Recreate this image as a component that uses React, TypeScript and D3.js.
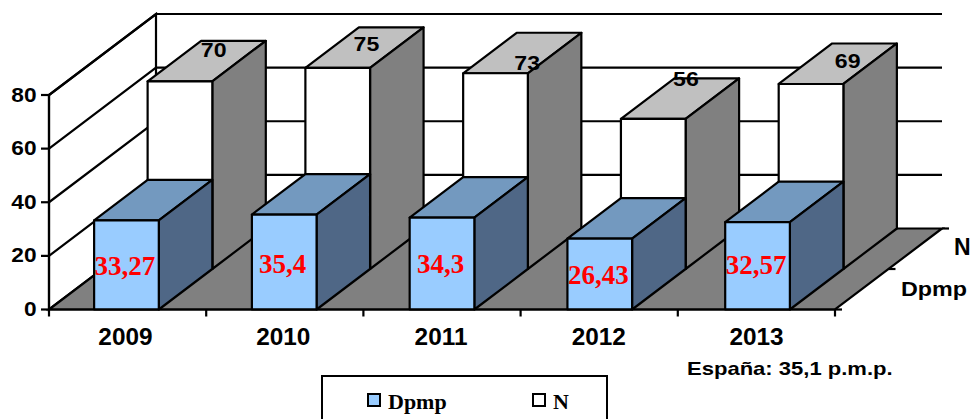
import React from "react";
import * as d3 from "d3";

const years = ["2009", "2010", "2011", "2012", "2013"];
const dpmp = [33.27, 35.4, 34.3, 26.43, 32.57];
const dpmpLabels = ["33,27", "35,4", "34,3", "26,43", "32,57"];
const nValues = [70, 75, 73, 56, 69];
const yTicks = [0, 20, 40, 60, 80];
const seriesNames = ["Dpmp", "N"];

// hand-placed label offsets
const nLabelDx = [66, 61, 64, 65, 69];
const nLabelDy = [-64.5, -57, -44, -73, -56];
const dpmpLabelDy = [10, 11, 9, 10, 8];

const x0 = 49, x1 = 835, y0 = 309.5, y80 = 95;
const depthX = 107, depthY = -81;

const x = d3.scaleBand<string>().domain(years).range([x0, x1]).paddingInner(0.59).paddingOuter(0.286);
const y = d3.scaleLinear().domain([0, 80]).range([y0, y80]);
const z = d3.scaleBand<string>().domain(seriesNames).range([0, 1]);

const pt = (px: number, py: number, d: number) => [px + d * depthX, py + d * depthY] as [number, number];
const poly = (pts: [number, number][]) => d3.line()(pts)! + "Z";

const stroke = "#000";
const sw = 2.2;

function Box({ cat, series, value, front, top, side }: { cat: string; series: string; value: number; front: string; top: string; side: string }) {
  const l = x(cat)!;
  const r = l + x.bandwidth();
  const d0 = z(series)!;
  const d1 = d0 + z.bandwidth();
  const yb = y(0), yt = y(value);
  return (
    <g stroke={stroke} strokeWidth={sw} strokeLinejoin="round">
      <path d={poly([pt(l, yt, d0), pt(r, yt, d0), pt(r, yt, d1), pt(l, yt, d1)])} fill={top} />
      <path d={poly([pt(r, yb, d0), pt(r, yb, d1), pt(r, yt, d1), pt(r, yt, d0)])} fill={side} />
      <path d={poly([pt(l, yb, d0), pt(r, yb, d0), pt(r, yt, d0), pt(l, yt, d0)])} fill={front} />
    </g>
  );
}

// Reference text is horizontally stretched: draw with a horizontal scale.
function T({ x: tx, y: ty, sx = 1, anchor = "start", children }: { x: number; y: number; sx?: number; anchor?: string; children: React.ReactNode }) {
  return (
    <text transform={`translate(${tx},${ty}) scale(${sx},1)`} textAnchor={anchor}>{children}</text>
  );
}

export default function App() {
  const sans = "'Liberation Sans', Arial, sans-serif";
  const serif = "'Liberation Serif', 'Times New Roman', serif";
  return (
    <svg width={970} height={419} style={{ position: "absolute", left: 0, top: 0, background: "#fff" }}>
      {/* walls */}
      <g stroke={stroke} strokeWidth={sw} fill="#fff">
        <path d={d3.line()([pt(x0, y(80), 1), pt(x1, y(80), 1)])!} fill="none" />
        <path d={poly([pt(x0, y(0), 0), pt(x0, y(0), 1), pt(x0, y(80), 1), pt(x0, y(80), 0)])} />
      </g>
      {/* grid */}
      <g stroke={stroke} strokeWidth={sw} fill="none">
        {yTicks.slice(1).map((t) => (
          <path key={t} d={d3.line()([pt(x0, y(t), 0), pt(x0, y(t), 1), pt(x1, y(t), 1)])!} />
        ))}
      </g>
      {/* floor */}
      <path d={poly([pt(x0, y(0), 0), pt(x1, y(0), 0), pt(x1, y(0), 1), pt(x0, y(0), 1)])} fill="#808080" stroke={stroke} strokeWidth={sw} />
      {/* bars */}
      {years.map((c, i) => (
        <Box key={c} cat={c} series="N" value={nValues[i]} front="#fff" top="#c0c0c0" side="#808080" />
      ))}
      {years.map((c, i) => (
        <Box key={c} cat={c} series="Dpmp" value={dpmp[i]} front="#99ccff" top="#7399bf" side="#4f6786" />
      ))}
      {/* axes */}
      <g stroke={stroke} strokeWidth={sw}>
        <line x1={x0} x2={x0} y1={y(0)} y2={y(80)} />
        <line x1={x0} x2={x1} y1={y(0)} y2={y(0)} />
        {yTicks.map((t) => (
          <line key={t} x1={x0 - 8} x2={x0} y1={y(t)} y2={y(t)} />
        ))}
        {d3.range(years.length + 1).map((i) => {
          const tx = x0 + (i * (x1 - x0)) / years.length;
          return <line key={i} x1={tx} x2={tx} y1={y(0)} y2={y(0) + 7} />;
        })}
        {[0, 0.5, 1].map((d) => {
          const p = pt(x1, y(0), d);
          return <line key={d} x1={p[0]} x2={p[0] + 7} y1={p[1]} y2={p[1]} />;
        })}
      </g>
      {/* tick labels */}
      <g fontFamily={sans} fontWeight="bold" fontSize={21} fill="#000">
        {yTicks.map((t) => (
          <T key={t} x={36.5} y={y(t) + 6.5} sx={1.08} anchor="end">{t}</T>
        ))}
        <g fontSize={23}>
          {years.map((c) => (
            <T key={c} x={x(c)! + x.bandwidth() / 2 - 1} y={345} sx={1.06} anchor="middle">{c}</T>
          ))}
          <T x={954} y={255}>N</T>
        </g>
        <T x={901} y={296} sx={1.11}>Dpmp</T>
        <g fontSize={19}>
          <T x={687} y={375} sx={1.16}>España: 35,1 p.m.p.</T>
        </g>
        {years.map((c, i) => (
          <T key={c} x={x(c)! + depthX / 2 + nLabelDx[i]} y={y(nValues[i]) + nLabelDy[i]} sx={1.1} anchor="middle">{nValues[i]}</T>
        ))}
      </g>
      {/* Dpmp labels */}
      <g fontFamily={serif} fontWeight="bold" fontSize={27} fill="#ff0000">
        {years.map((c, i) => (
          <text key={c} x={x(c)! + x.bandwidth() / 2 - 1.5} y={y(dpmp[i]) / 2 + y(0) / 2 + dpmpLabelDy[i]} textAnchor="middle">{dpmpLabels[i]}</text>
        ))}
      </g>
      {/* legend */}
      <rect x={322} y={376} width={285} height={60} fill="#fff" stroke={stroke} strokeWidth={2} />
      <rect x={368} y={394} width={12} height={12} fill="#99ccff" stroke={stroke} strokeWidth={2} />
      <rect x={533} y={394} width={12} height={12} fill="#fff" stroke={stroke} strokeWidth={2} />
      <g fontFamily={serif} fontWeight="bold" fontSize={22} fill="#000">
        <text x={388} y={409}>{seriesNames[0]}</text>
        <text x={553} y={409}>{seriesNames[1]}</text>
      </g>
    </svg>
  );
}
